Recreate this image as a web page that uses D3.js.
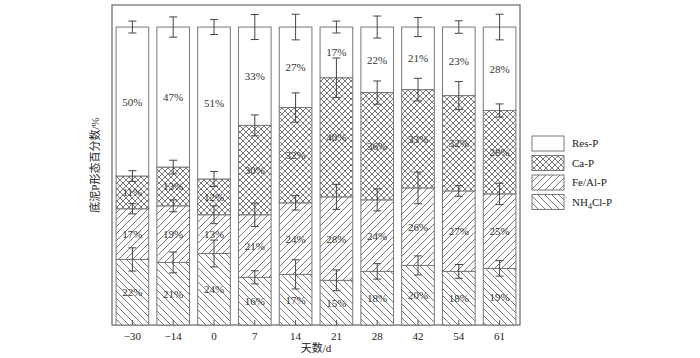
<!DOCTYPE html>
<html><head><meta charset="utf-8">
<script src="https://cdn.jsdelivr.net/npm/d3@7"></script>
<style>
html,body{margin:0;padding:0;background:#fff;}
text{font-family:"Liberation Serif","Times New Roman","Noto Sans CJK SC",serif;}
</style></head>
<body><svg id="c" width="700" height="358"></svg>
<script>
const days = ["\u221230","\u221214","0","7","14","21","28","42","54","61"];
const nh4P = [22,21,24,16,17,15,18,20,18,19];
const feAlP = [17,19,13,21,24,28,24,26,27,25];
const caP  = [11,13,12,30,32,40,36,33,32,28];
const resP = [50,47,51,33,27,17,22,21,23,28];
const nh4Err = [3.9,3.5,4.5,2.2,4.9,3.5,2.6,3.2,2.3,2.6];
const feAlErr = [1.7,2.0,3.0,3.9,2.4,4.2,3.7,5.3,1.8,3.6];
const caErr = [1.8,2.3,2.5,3.5,4.9,6.6,3.9,3.8,4.7,2.2];
const resErr = [2.0,3.4,2.5,4.2,4.3,2.0,3.7,3.2,2.1,4.3];
const seriesNames = ["NH4Cl-P","Fe/Al-P","Ca-P","Res-P"];
const xTitle = "天数/d";
const yTitle = "底泥P形态百分数/%";

const svg = d3.select("#c");
const L=112,R=520,T=5,B=325;
const x = d3.scaleBand().domain(days).range([L,R]).paddingInner(0.2).paddingOuter(0.1);
const y = d3.scaleLinear().domain([0,107.4]).range([B,T]);

const defs = svg.append("defs");
const hc = "#555";
function hatch(id, size, d){
  const p = defs.append("pattern").attr("id",id).attr("patternUnits","userSpaceOnUse")
    .attr("width",size).attr("height",size);
  p.append("rect").attr("width",size).attr("height",size).attr("fill","#fff");
  p.append("path").attr("d",d).attr("stroke",hc).attr("stroke-width",0.8).attr("fill","none");
}
const s1=7, s2=7, s3=6;
hatch("fwd", s1, `M0,${s1} L${s1},0 M${-1},1 L1,${-1} M${s1-1},${s1+1} L${s1+1},${s1-1}`);
hatch("bwd", s2, `M0,0 L${s2},${s2} M${s2-1},-1 L${s2+1},1 M-1,${s2-1} L1,${s2+1}`);
hatch("cross", s3, `M0,${s3} L${s3},0 M-1,1 L1,-1 M${s3-1},${s3+1} L${s3+1},${s3-1} M0,0 L${s3},${s3} M${s3-1},-1 L${s3+1},1 M-1,${s3-1} L1,${s3+1}`);
const fills = {"NH4Cl-P":"url(#bwd)","Fe/Al-P":"url(#fwd)","Ca-P":"url(#cross)","Res-P":"#fff"};

const rows = days.map((d,i)=>({day:d,"NH4Cl-P":nh4P[i],"Fe/Al-P":feAlP[i],"Ca-P":caP[i],"Res-P":resP[i]}));
const errs = {"NH4Cl-P":nh4Err,"Fe/Al-P":feAlErr,"Ca-P":caErr,"Res-P":resErr};
const stacked = d3.stack().keys(seriesNames)(rows);

// frame
svg.append("rect").attr("x",L).attr("y",T).attr("width",R-L).attr("height",B-T)
  .attr("fill","none").attr("stroke","#666").attr("stroke-width",1.2);

stacked.forEach(s=>{
  const g = svg.append("g");
  g.selectAll("rect").data(s).join("rect")
    .attr("x",d=>x(d.data.day)).attr("width",x.bandwidth())
    .attr("y",d=>y(d[1])).attr("height",d=>y(d[0])-y(d[1]))
    .attr("fill",fills[s.key]).attr("stroke","#777").attr("stroke-width",1);
});

// bottom small ticks
svg.append("g").selectAll("line").data(days).join("line")
  .attr("x1",d=>x(d)+x.bandwidth()/2).attr("x2",d=>x(d)+x.bandwidth()/2)
  .attr("y1",B-5).attr("y2",B).attr("stroke","#555").attr("stroke-width",1);

// labels
stacked.forEach(s=>{
  svg.append("g").selectAll("text").data(s).join("text")
    .attr("x",d=>x(d.data.day)+x.bandwidth()/2)
    .attr("y",d=>(y(d[0])+y(d[1]))/2+4)
    .attr("text-anchor","middle").attr("font-size",11).attr("fill","#333")
    .text(d=>(d[1]-d[0])+"%");
});

// error bars
const cw=4;
stacked.forEach(s=>{
  const e = errs[s.key];
  const g = svg.append("g").attr("stroke","#444").attr("stroke-width",1).attr("fill","none");
  s.forEach((d,i)=>{
    const cx = x(d.data.day)+x.bandwidth()/2;
    const y1 = y(d[1]+e[i]), y2 = y(d[1]-e[i]);
    g.append("line").attr("x1",cx).attr("x2",cx).attr("y1",y1).attr("y2",y2);
    g.append("line").attr("x1",cx-cw).attr("x2",cx+cw).attr("y1",y1).attr("y2",y1);
    g.append("line").attr("x1",cx-cw).attr("x2",cx+cw).attr("y1",y2).attr("y2",y2);
  });
});

// x tick labels
svg.append("g").selectAll("text").data(days).join("text")
  .attr("x",d=>x(d)+x.bandwidth()/2).attr("y",340)
  .attr("text-anchor","middle").attr("font-size",11).attr("fill","#222").text(d=>d);

svg.append("text").attr("x",(L+R)/2).attr("y",352).attr("text-anchor","middle")
  .attr("font-size",11).attr("fill","#222").text(xTitle);
svg.append("text").attr("transform",`translate(99,${(T+B)/2}) rotate(-90)`)
  .attr("text-anchor","middle").attr("font-size",11).attr("fill","#222").text(yTitle);

// legend
const legendOrder = ["Res-P","Ca-P","Fe/Al-P","NH4Cl-P"];
const lg = svg.append("g");
legendOrder.forEach((k,i)=>{
  const yy = 136 + i*19.5;
  lg.append("rect").attr("x",532).attr("y",yy).attr("width",32).attr("height",15)
    .attr("fill",fills[k]).attr("stroke","#777").attr("stroke-width",1);
  const t = lg.append("text").attr("x",572).attr("y",yy+11).attr("font-size",11).attr("fill","#222");
  if(k==="NH4Cl-P"){
    t.append("tspan").text("NH");
    t.append("tspan").attr("font-size",8).attr("dy",3).text("4");
    t.append("tspan").attr("dy",-3).text("Cl-P");
  } else t.text(k);
});
</script></body></html>
